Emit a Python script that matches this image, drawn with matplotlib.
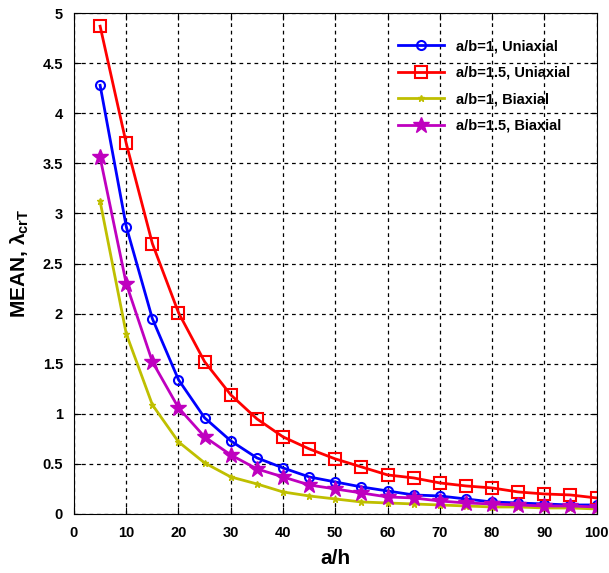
import matplotlib
matplotlib.use('Agg')
import matplotlib.pyplot as plt

plt.rcParams['font.family'] = ['Liberation Sans', 'DejaVu Sans']
plt.rcParams['font.weight'] = 'bold'
plt.rcParams['mathtext.fontset'] = 'custom'
plt.rcParams['mathtext.rm'] = 'Liberation Sans:bold'
plt.rcParams['mathtext.it'] = 'Liberation Sans:bold'
plt.rcParams['mathtext.bf'] = 'Liberation Sans:bold'

a_h = [5, 10, 15, 20, 25, 30, 35, 40, 45, 50, 55, 60, 65, 70, 75, 80, 85, 90, 95, 100]

ab1_uni = [4.28, 2.87, 1.95, 1.34, 0.96, 0.73, 0.56, 0.46, 0.37, 0.32, 0.27, 0.23,
           0.19, 0.18, 0.15, 0.12, 0.11, 0.10, 0.09, 0.09]
ab15_uni = [4.87, 3.70, 2.70, 2.01, 1.52, 1.19, 0.95, 0.77, 0.65, 0.55, 0.47, 0.39,
            0.36, 0.31, 0.28, 0.26, 0.22, 0.20, 0.19, 0.16]
ab1_bi = [3.12, 1.80, 1.09, 0.72, 0.51, 0.37, 0.30, 0.22, 0.18, 0.15, 0.12, 0.11,
          0.10, 0.09, 0.08, 0.07, 0.07, 0.06, 0.06, 0.05]
ab15_bi = [3.56, 2.30, 1.52, 1.06, 0.77, 0.59, 0.45, 0.37, 0.29, 0.25, 0.21, 0.17,
           0.16, 0.13, 0.11, 0.10, 0.09, 0.08, 0.08, 0.07]

labels = ['a/b=1, Uniaxial', 'a/b=1.5, Uniaxial', 'a/b=1, Biaxial', 'a/b=1.5, Biaxial']

fig = plt.figure(figsize=(6.09, 5.73), dpi=100)
ax = fig.add_axes([0.1215, 0.103, 0.858, 0.874])

ax.plot(a_h, ab1_uni, '-o', color='#0000ff', lw=2, ms=6.5, mfc='none', mew=1.5, label=labels[0])
ax.plot(a_h, ab15_uni, '-s', color='#ff0000', lw=2, ms=8.5, mfc='none', mew=1.5, label=labels[1])
ax.plot(a_h, ab1_bi, '-*', color='#bfbf00', lw=2, ms=5, label=labels[2])
ax.plot(a_h, ab15_bi, '-*', color='#bf00bf', lw=2, ms=12, label=labels[3])

ax.set_xlim(0, 100)
ax.set_ylim(0, 5)
ax.set_xticks(range(0, 101, 10))
ax.set_yticks([0, 0.5, 1, 1.5, 2, 2.5, 3, 3.5, 4, 4.5, 5])
ax.set_yticklabels(['0', '0.5', '1', '1.5', '2', '2.5', '3', '3.5', '4', '4.5', '5'])
ax.tick_params(direction='in', top=True, right=True, labelsize=10.5, length=5)
ax.tick_params(axis='x', pad=9)
ax.tick_params(axis='y', pad=8)
ax.grid(True, linestyle=(0, (3, 3)), color='black', linewidth=0.9)
for s in ax.spines.values():
    s.set_linewidth(0.8)

ax.set_xlabel('a/h', fontsize=15, fontweight='bold', labelpad=6)
ax.set_ylabel(r'MEAN, $\lambda_{\mathrm{crT}}$', fontsize=15, fontweight='bold', labelpad=8)

ax.legend(loc='upper right', frameon=False, fontsize=10.5, handlelength=3.2,
          borderaxespad=0.6, borderpad=1.2, labelspacing=0.85,
          bbox_to_anchor=(1.0, 1.0))

plt.savefig('out.png', dpi=100)
